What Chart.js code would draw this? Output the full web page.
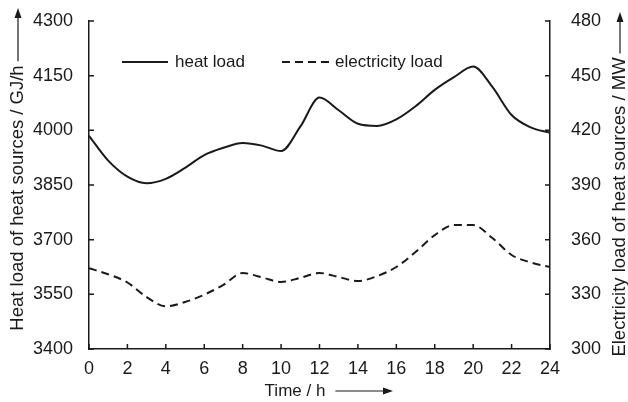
<!DOCTYPE html>
<html>
<head>
<meta charset="utf-8">
<script src="https://cdn.jsdelivr.net/npm/chart.js@4/dist/chart.umd.min.js"></script>
<style>
  html, body { margin: 0; padding: 0; background: #fff; }
  #wrap { width: 628px; height: 402px; position: relative; }
</style>
</head>
<body>
<div id="wrap"><canvas id="c"></canvas></div>
<script>
var hours = [0, 1, 2, 3, 4, 5, 6, 7, 8, 9, 10, 11, 12, 13, 14, 15, 16, 17, 18, 19, 20, 21, 22, 23, 24];
var heatLoad = [3985, 3917, 3873, 3855, 3867, 3897, 3932, 3952, 3965, 3958, 3943, 4010, 4090, 4055, 4018, 4012, 4030, 4066, 4111, 4146, 4175, 4119, 4042, 4008, 3993];
var electricityLoad = [344.4, 341, 336.5, 328.5, 323.4, 325.8, 329.8, 335.2, 341.7, 339.3, 336.8, 339, 341.7, 339.5, 337.3, 340, 345, 353.2, 362.5, 368, 368, 360.9, 351.6, 347.5, 345];

var hourTicks = [0, 2, 4, 6, 8, 10, 12, 14, 16, 18, 20, 22, 24];
var heatTicks = [3400, 3550, 3700, 3850, 4000, 4150, 4300];
var elecTicks = [300, 330, 360, 390, 420, 450, 480];

var FONT = "'Liberation Sans', Arial, sans-serif";
var INK = '#1a1a1a';

function pts(ys) {
  return hours.map(function(h, i) { return { x: h, y: ys[i] }; });
}

function fixTicks(list) {
  return function(scale) {
    scale.ticks = list.map(function(v) { return { value: v }; });
  };
}

// fixed side width, no extra room reserved for end labels
function sideFit(w) {
  return function(s) {
    s.width = w;
    s.paddingTop = 0;
    s.paddingBottom = 0;
  };
}

function plain(v) { return String(v); }

function arrow(ctx, x1, y1, x2, y2) {
  var a = Math.atan2(y2 - y1, x2 - x1);
  var hl = 10, hw = 3.5;
  ctx.beginPath();
  ctx.moveTo(x1, y1);
  ctx.lineTo(x2 - hl * Math.cos(a), y2 - hl * Math.sin(a));
  ctx.stroke();
  ctx.beginPath();
  ctx.moveTo(x2, y2);
  ctx.lineTo(x2 - hl * Math.cos(a) - hw * Math.sin(a), y2 - hl * Math.sin(a) + hw * Math.cos(a));
  ctx.lineTo(x2 - hl * Math.cos(a) + hw * Math.sin(a), y2 - hl * Math.sin(a) - hw * Math.cos(a));
  ctx.closePath();
  ctx.fill();
}

// inward tick marks, axis titles with arrows, and the in-plot legend
var decor = {
  id: 'decor',
  afterDraw: function(chart) {
    var ctx = chart.ctx;
    var x = chart.scales.x, yl = chart.scales.yHeat, yr = chart.scales.yElec;
    var t = 5;
    ctx.save();
    ctx.strokeStyle = INK;
    ctx.fillStyle = INK;
    ctx.lineWidth = 1.5;

    ctx.beginPath();
    hourTicks.forEach(function(v) {
      var px = x.getPixelForValue(v);
      ctx.moveTo(px, x.top);
      ctx.lineTo(px, x.top - t);
    });
    heatTicks.forEach(function(v) {
      var py = yl.getPixelForValue(v);
      ctx.moveTo(yl.right, py);
      ctx.lineTo(yl.right + t, py);
    });
    elecTicks.forEach(function(v) {
      var py = yr.getPixelForValue(v);
      ctx.moveTo(yr.left, py);
      ctx.lineTo(yr.left - t, py);
    });
    ctx.stroke();

    ctx.lineWidth = 1.2;
    ctx.textBaseline = 'middle';

    // left title
    ctx.font = '18.5px ' + FONT;
    var s1 = 'Heat load of heat sources / GJ/h';
    var w1 = ctx.measureText(s1).width;
    ctx.save();
    ctx.translate(18, 198);
    ctx.rotate(-Math.PI / 2);
    ctx.textAlign = 'center';
    ctx.fillText(s1, 0, 0);
    arrow(ctx, w1 / 2 + 4, 0, 190, 0);
    ctx.restore();

    // right title
    var s2 = 'Electricity load of heat sources / MW';
    var w2 = ctx.measureText(s2).width;
    ctx.save();
    ctx.translate(620, 207);
    ctx.rotate(-Math.PI / 2);
    ctx.textAlign = 'center';
    ctx.fillText(s2, 0, 0);
    arrow(ctx, w2 / 2 + 4, 0, 195, 0);
    ctx.restore();

    // bottom title
    ctx.font = '17px ' + FONT;
    ctx.textAlign = 'center';
    var s3 = 'Time / h';
    var w3 = ctx.measureText(s3).width;
    ctx.fillText(s3, 295, 391);
    arrow(ctx, 295 + w3 / 2 + 10, 391, 393, 391);

    // legend
    ctx.textAlign = 'left';
    ctx.font = '17px ' + FONT;
    ctx.lineWidth = 2;
    ctx.beginPath();
    ctx.moveTo(122, 62);
    ctx.lineTo(168, 62);
    ctx.stroke();
    ctx.fillText('heat load', 175, 62);
    ctx.setLineDash([8, 5]);
    ctx.beginPath();
    ctx.moveTo(282, 62);
    ctx.lineTo(329, 62);
    ctx.stroke();
    ctx.setLineDash([]);
    ctx.fillText('electricity load', 335, 62);

    ctx.restore();
  }
};

var tickFont = { family: FONT, size: 18 };

new Chart(document.getElementById('c'), {
  type: 'line',
  data: {
    datasets: [
      {
        label: 'heat load',
        data: pts(heatLoad),
        yAxisID: 'yHeat',
        borderColor: INK,
        borderWidth: 2,
        pointRadius: 0,
        cubicInterpolationMode: 'monotone',
        fill: false
      },
      {
        label: 'electricity load',
        data: pts(electricityLoad),
        yAxisID: 'yElec',
        borderColor: INK,
        borderWidth: 2,
        borderDash: [8, 5],
        pointRadius: 0,
        cubicInterpolationMode: 'monotone',
        fill: false
      }
    ]
  },
  options: {
    responsive: true,
    maintainAspectRatio: false,
    animation: false,
    devicePixelRatio: 1,
    layout: { padding: { top: 21, left: 0, right: 0, bottom: 0 } },
    plugins: {
      legend: { display: false },
      tooltip: { enabled: false }
    },
    scales: {
      x: {
        type: 'linear',
        min: 0,
        max: 24,
        afterBuildTicks: fixTicks(hourTicks),
        afterFit: function(s) { s.height = 53; s.paddingLeft = 0; s.paddingRight = 0; },
        grid: { display: false, drawTicks: false },
        border: { display: true, color: INK, width: 1.5 },
        ticks: { color: INK, font: tickFont, padding: 9, maxRotation: 0, callback: plain }
      },
      yHeat: {
        position: 'left',
        min: 3400,
        max: 4300,
        afterBuildTicks: fixTicks(heatTicks),
        afterFit: sideFit(89),
        grid: { display: false, drawTicks: false },
        border: { display: true, color: INK, width: 1.5 },
        ticks: { color: INK, font: tickFont, padding: 16, callback: plain }
      },
      yElec: {
        position: 'right',
        min: 300,
        max: 480,
        afterBuildTicks: fixTicks(elecTicks),
        afterFit: sideFit(78),
        grid: { display: false, drawTicks: false },
        border: { display: true, color: INK, width: 1.5 },
        ticks: { color: INK, font: tickFont, padding: 21, callback: plain }
      }
    }
  },
  plugins: [decor]
});
</script>
</body>
</html>
